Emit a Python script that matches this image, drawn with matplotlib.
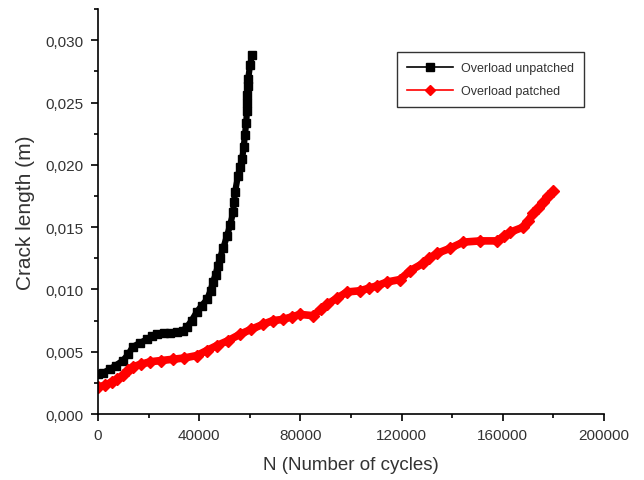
import matplotlib
matplotlib.use("Agg")
import matplotlib.pyplot as plt
from matplotlib.lines import Line2D
from matplotlib.ticker import MultipleLocator, FuncFormatter

plt.rcParams['font.family'] = ['Liberation Sans', 'DejaVu Sans']

unpatched_N = [0, 2000, 4700, 7000, 9900, 12000, 13800, 16500, 19400, 21500, 23300,
               26000, 28500, 31200, 33500, 35200, 37000, 39100, 41000, 43100, 44500,
               45500, 46500, 47400, 48200, 49500, 51000, 52300, 53400, 53800, 54200,
               55300, 56200, 57000, 57600, 58100, 58600, 58900, 59000, 59100, 59300,
               59400, 60100, 60900]
unpatched_a = [0.0032, 0.0033, 0.0036, 0.0039, 0.0043, 0.0048, 0.0054, 0.0057, 0.0060,
               0.0063, 0.0064, 0.0065, 0.0065, 0.0066, 0.0067, 0.0070, 0.0075, 0.0082,
               0.0087, 0.0092, 0.0099, 0.0106, 0.0112, 0.0119, 0.0125, 0.0133, 0.0143,
               0.0152, 0.0162, 0.0170, 0.0178, 0.0191, 0.0198, 0.0205, 0.0214, 0.0224,
               0.0234, 0.0243, 0.0250, 0.0256, 0.0263, 0.0269, 0.0280, 0.0288]

patched_N = [0, 3000, 5500, 7500, 10000, 12000, 13800, 17000, 20600, 25000, 29600,
             34000, 39100, 43000, 47000, 51500, 56100, 60500, 65200, 69000, 73100,
             76500, 79900, 85000, 88000, 90500, 94500, 98400, 103600, 107000, 110300,
             114200, 119400, 123300, 128500, 131000, 134000, 139100, 144300, 151000,
             157700, 160500, 162900, 168000, 170000, 172000, 174000, 175900, 178000,
             179900]
patched_a = [0.0022, 0.0023, 0.0026, 0.0028, 0.0031, 0.0035, 0.0038, 0.0040, 0.0042,
             0.0043, 0.0044, 0.0045, 0.0047, 0.0051, 0.0055, 0.0059, 0.0064, 0.0068,
             0.0072, 0.0075, 0.0076, 0.0078, 0.0080, 0.0079, 0.0084, 0.0088, 0.0093,
             0.0098, 0.0099, 0.0101, 0.0103, 0.0106, 0.0108, 0.0115, 0.0121, 0.0125,
             0.0129, 0.0133, 0.0138, 0.0139, 0.0139, 0.0143, 0.0146, 0.0150, 0.0155,
             0.0161, 0.0165, 0.0170, 0.0175, 0.0179]

labels = ['Overload unpatched', 'Overload patched']

fig = plt.figure(figsize=(6.44, 4.81), dpi=100)
ax = fig.add_axes([0.152, 0.137, 0.786, 0.842])

ax.plot(unpatched_N, unpatched_a, color='black', marker='s', markersize=6.2,
        linewidth=4.5, solid_joinstyle='round')
ax.plot(patched_N, patched_a, color='red', marker='D', markersize=6,
        linewidth=5.5, solid_joinstyle='round')

ax.set_xlim(0, 200000)
ax.set_ylim(0, 0.0325)
ax.xaxis.set_major_locator(MultipleLocator(40000))
ax.xaxis.set_minor_locator(MultipleLocator(20000))
ax.yaxis.set_major_locator(MultipleLocator(0.005))
ax.yaxis.set_minor_locator(MultipleLocator(0.0025))
ax.yaxis.set_major_formatter(FuncFormatter(lambda v, p: f"{v:.3f}".replace('.', ',')))
ax.xaxis.set_major_formatter(FuncFormatter(lambda v, p: f"{int(round(v))}"))

for s in ['top', 'right']:
    ax.spines[s].set_visible(False)
for s in ['left', 'bottom']:
    ax.spines[s].set_linewidth(1.2)
ax.tick_params(which='major', direction='out', length=5, width=1.2, labelsize=11,
               colors='black', labelcolor='#333333', pad=5)
ax.tick_params(which='minor', direction='out', length=3, width=1.2)

ax.set_xlabel('N (Number of cycles)', fontsize=13.5, color='#333333', labelpad=10)
ax.set_ylabel('Crack length (m)', fontsize=15, color='#333333', labelpad=8)

handles = [Line2D([], [], color='black', marker='s', markersize=5.5, linewidth=1.2),
           Line2D([], [], color='red', marker='D', markersize=5, linewidth=1.2)]
leg = ax.legend(handles, labels, loc='upper left', bbox_to_anchor=(0.591, 0.894),
                fontsize=9, frameon=True, fancybox=False, edgecolor='black',
                handlelength=3.7, handletextpad=0.6, borderpad=0.8, labelspacing=0.9,
                borderaxespad=0)
leg.get_frame().set_linewidth(1.0)
for t in leg.get_texts():
    t.set_color('#333333')

fig.savefig('out.png', dpi=100)
